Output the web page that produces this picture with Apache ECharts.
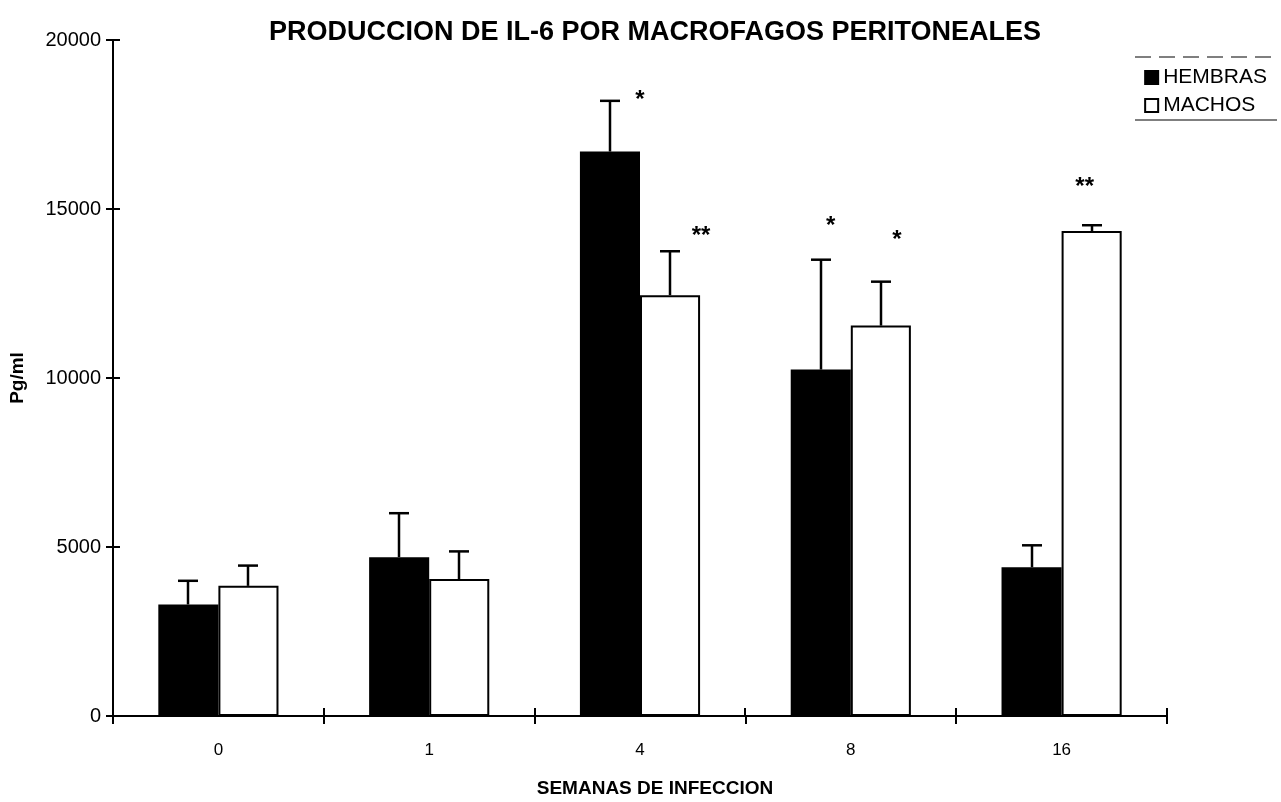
<!DOCTYPE html>
<html>
<head>
<meta charset="utf-8">
<script src="https://cdn.jsdelivr.net/npm/echarts@6/dist/echarts.min.js"></script>
<style>html,body{margin:0;padding:0;background:#fff}#c{width:1281px;height:802px}</style>
</head>
<body>
<div id="c"></div>
<script>
const categories = ['0', '1', '4', '8', '16'];
const hembras = [3300, 4700, 16700, 10250, 4400];
const hembrasErrTop = [4000, 6000, 18200, 13500, 5050];
const machos = [3850, 4050, 12450, 11550, 14350];
const machosErrTop = [4450, 4870, 13750, 12850, 14520];
const hembrasStars = ['', '', '*', '*', ''];
const hembrasStarLevel = [null, null, 18400, 14670, null];
const machosStars = ['', '', '**', '*', '**'];
const machosStarLevel = [null, null, 14370, 14250, 15820];
const yTicks = [0, 5000, 10000, 15000, 20000];

// layout only (pixel nudges of the significance marks relative to their bar centre)
const hembrasStarDx = [0, 0, 30, 10, 0];
const machosStarDx = [0, 0, 31, 16, -7];

const FONT = '"Liberation Sans", Arial, sans-serif';
const GAP = 0.43;
const GRID = {left: 113, right: 114, top: 40, bottom: 86};

function errRender(side) {
  return function (params, api) {
    const i = api.value(0);
    const base = api.coord([i, api.value(1)]);
    const top = api.coord([i, api.value(2)]);
    const band = api.size([1, 0])[0];
    const bw = band * (1 - GAP) / 2;
    const x = Math.round(base[0] + side * bw / 2);
    return {
      type: 'group',
      children: [
        {type: 'line', shape: {x1: x, y1: base[1], x2: x, y2: top[1]}, style: {stroke: '#000', lineWidth: 2.5}},
        {type: 'line', shape: {x1: x - 10, y1: top[1], x2: x + 10, y2: top[1]}, style: {stroke: '#000', lineWidth: 2.5}}
      ]
    };
  };
}
function starRender(side, dxArr) {
  return function (params, api) {
    const i = api.value(0);
    const p = api.coord([i, api.value(1)]);
    const band = api.size([1, 0])[0];
    const bw = band * (1 - GAP) / 2;
    const x = p[0] + side * bw / 2 + dxArr[i];
    return {type: 'text', style: {x: x, y: p[1] + 6, text: api.value(2) === 1 ? '*' : '**', fill: '#000', font: 'bold 24px ' + FONT, align: 'center', verticalAlign: 'middle'}};
  };
}
function starData(stars, levels) {
  const out = [];
  stars.forEach((s, i) => { if (s) out.push([i, levels[i], s.length]); });
  return out;
}

const legendLines = [
  {type: 'line', shape: {x1: 1135, y1: 57, x2: 1277, y2: 57}, style: {stroke: '#000', lineWidth: 1.2, lineDash: [16, 8]}},
  {type: 'line', shape: {x1: 1135, y1: 120, x2: 1277, y2: 120}, style: {stroke: '#000', lineWidth: 1.2}}
];

const chart = echarts.init(document.getElementById('c'), null, {renderer: 'canvas'});
chart.setOption({
  animation: false,
  backgroundColor: '#fff',
  title: {
    text: 'PRODUCCION DE IL-6 POR MACROFAGOS PERITONEALES',
    left: 650, top: 14, textAlign: 'center',
    textStyle: {fontFamily: FONT, fontSize: 27, fontWeight: 'bold', color: '#000'}
  },
  legend: {
    orient: 'vertical', right: 14, top: 67, itemGap: 7, padding: 0,
    icon: 'rect', itemWidth: 13, itemHeight: 13,
    textStyle: {fontFamily: FONT, fontSize: 21, color: '#000'},
    data: [
      {name: 'HEMBRAS', itemStyle: {color: '#000'}},
      {name: 'MACHOS', itemStyle: {color: '#fff', borderColor: '#000', borderWidth: 2}}
    ]
  },
  graphic: legendLines,
  grid: Object.assign({containLabel: false, outerBoundsMode: 'none'}, GRID),
  xAxis: {
    type: 'category', data: categories,
    name: 'SEMANAS DE INFECCION', nameLocation: 'middle', nameGap: 63,
    nameTextStyle: {fontFamily: FONT, fontSize: 19, fontWeight: 'bold', color: '#000', padding: [0, 0, 0, 30]},
    axisLine: {lineStyle: {color: '#000', width: 2}},
    axisTick: {show: true, length: 8, inside: false, lineStyle: {color: '#000', width: 2}},
    axisLabel: {fontFamily: FONT, fontSize: 17, color: '#000', margin: 26}
  },
  yAxis: {
    type: 'value', min: 0, max: 20000, interval: 5000,
    name: 'Pg/ml', nameLocation: 'middle', nameGap: 86, nameRotate: 90,
    nameTextStyle: {fontFamily: FONT, fontSize: 19, fontWeight: 'bold', color: '#000'},
    axisLine: {show: true, lineStyle: {color: '#000', width: 2}},
    axisTick: {show: true, length: 7, lineStyle: {color: '#000', width: 2}},
    splitLine: {show: false},
    axisLabel: {fontFamily: FONT, fontSize: 20, color: '#000', margin: 12,
      formatter: v => yTicks.indexOf(v) >= 0 ? String(v) : ''}
  },
  series: [
    {name: 'HEMBRAS', type: 'bar', data: hembras, barGap: '0%', barCategoryGap: (GAP * 100) + '%',
      itemStyle: {color: '#000', borderColor: '#000', borderWidth: 2}},
    {name: 'MACHOS', type: 'bar', data: machos, barGap: '0%', barCategoryGap: (GAP * 100) + '%',
      itemStyle: {color: '#fff', borderColor: '#000', borderWidth: 2}},
    {type: 'custom', renderItem: errRender(-1), data: categories.map((c, i) => [i, hembras[i], hembrasErrTop[i]]), z: 5},
    {type: 'custom', renderItem: errRender(1), data: categories.map((c, i) => [i, machos[i], machosErrTop[i]]), z: 5},
    {type: 'custom', renderItem: starRender(-1, hembrasStarDx), data: starData(hembrasStars, hembrasStarLevel), z: 5},
    {type: 'custom', renderItem: starRender(1, machosStarDx), data: starData(machosStars, machosStarLevel), z: 5}
  ]
});

// inner halves of the crossing tick marks, placed through the chart's own scales
const x0 = chart.convertToPixel({xAxisIndex: 0}, 0);
const x1 = chart.convertToPixel({xAxisIndex: 0}, 1);
const band = x1 - x0;
const yZero = chart.convertToPixel({yAxisIndex: 0}, 0);
const axisX = x0 - band / 2;
const extra = [];
yTicks.forEach(v => {
  const y = Math.round(chart.convertToPixel({yAxisIndex: 0}, v));
  extra.push({type: 'line', z: 100, shape: {x1: axisX, y1: y, x2: axisX + 7, y2: y}, style: {stroke: '#000', lineWidth: 2}});
});
categories.forEach((c, i) => {
  const x = Math.round(chart.convertToPixel({xAxisIndex: 0}, i) + band / 2);
  extra.push({type: 'line', z: 100, shape: {x1: x, y1: yZero - 8, x2: x, y2: yZero}, style: {stroke: '#000', lineWidth: 2}});
});
chart.setOption({graphic: legendLines.concat(extra)});
</script>
</body>
</html>
